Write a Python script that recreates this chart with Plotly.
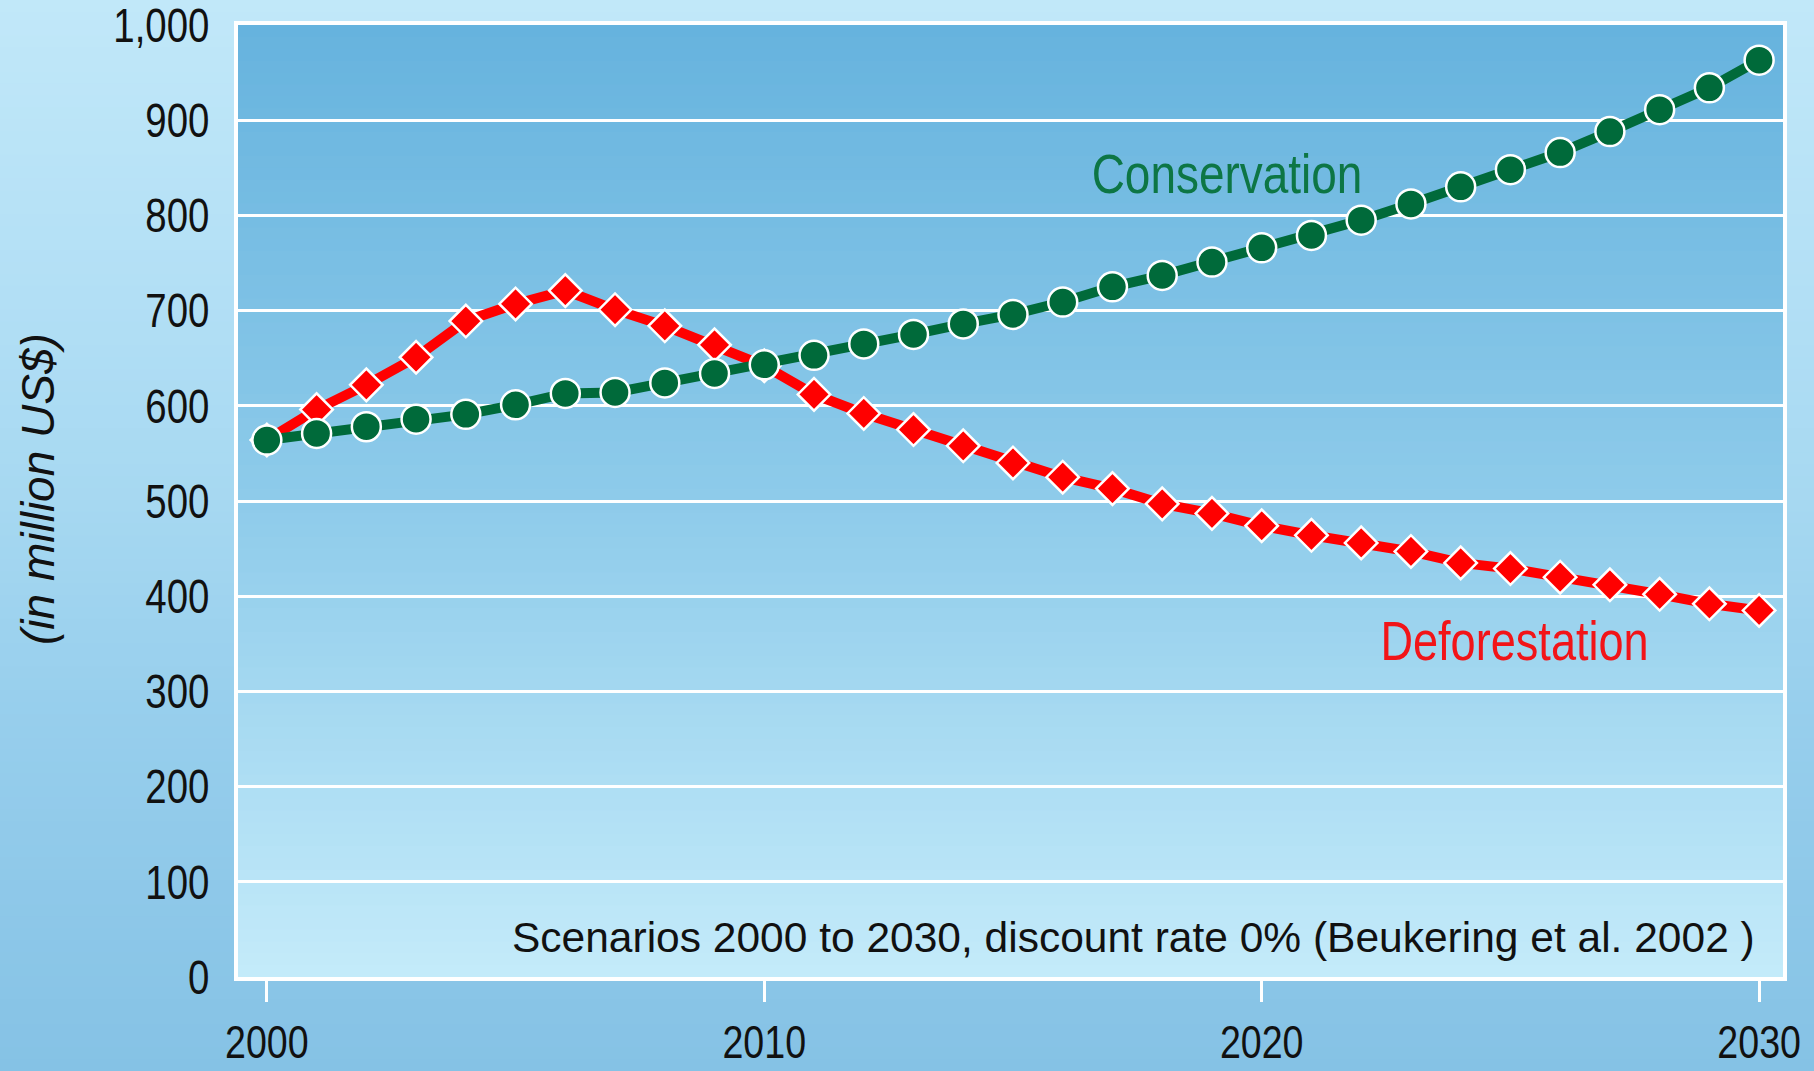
import plotly.graph_objects as go

# ---- data -------------------------------------------------------------
years = list(range(2000, 2031))

conservation = [564, 571, 578, 586, 591, 601, 613, 614, 624, 634, 643,
                653, 665, 675, 686, 696, 709, 725, 737, 751, 766,
                779, 795, 812, 830, 848, 866, 888, 911, 934, 963]

deforestation = [564, 596, 622, 651, 689, 707, 721, 701, 684, 664, 642,
                 612, 592, 575, 558, 540, 525, 513, 497, 487, 474,
                 464, 456, 447, 435, 429, 420, 412, 402, 392, 385]

x_ticks = [2000, 2010, 2020, 2030]
y_ticks = list(range(0, 1001, 100))

source_note = "Scenarios 2000 to 2030, discount rate 0% (Beukering et al. 2002 )"
y_title = "(in million US$)"

# ---- page geometry ------------------------------------------------------
W, H = 1814, 1071
M_L, M_R, M_T, M_B = 238, 31, 25, 94
PW = W - M_L - M_R
PH = H - M_T - M_B

SANS = "Liberation Sans, Arial, sans-serif"

GREEN = "#006a3a"
RED = "#ff0000"


def hex_to_rgb(h):
    h = h.lstrip("#")
    return tuple(int(h[i:i + 2], 16) for i in (0, 2, 4))


def blend(stops, t):
    """Linear colour blend along (position, hex) stops."""
    for (p0, c0), (p1, c1) in zip(stops, stops[1:]):
        if p0 <= t <= p1:
            f = 0 if p1 == p0 else (t - p0) / (p1 - p0)
            a, b = hex_to_rgb(c0), hex_to_rgb(c1)
            r = [round(a[i] + (b[i] - a[i]) * f) for i in range(3)]
            return "rgb({},{},{})".format(*r)
    return stops[-1][1]


def px_to_paper_y(py):
    return (H - M_B - py) / PH


shapes = []

# page background: light at the top, deeper blue at the bottom
page_stops = [(0.0, "#c1e8f9"), (0.28, "#b2dff5"), (0.47, "#a6d8f1"),
              (0.65, "#98cfed"), (1.0, "#85c2e5")]
n_page = 90
for i in range(n_page):
    t0 = i / n_page
    t1 = (i + 1) / n_page
    y_lo = px_to_paper_y(t1 * H + 1) if i < n_page - 1 else -0.6
    y_hi = px_to_paper_y(t0 * H) if i > 0 else 1.6
    shapes.append(dict(
        type="rect", xref="paper", yref="paper", layer="below",
        x0=-0.3, x1=1.3, y0=y_lo, y1=y_hi,
        fillcolor=blend(page_stops, (t0 + t1) / 2), line=dict(width=0)))

# plotting area: deep blue at the top fading to pale blue at the bottom
plot_stops = [(0.0, "#66b3de"), (0.5, "#8ecbea"), (1.0, "#c4ebfa")]
n_plot = 80
for i in range(n_plot):
    t0 = i / n_plot
    t1 = (i + 1) / n_plot
    shapes.append(dict(
        type="rect", xref="paper", yref="paper", layer="below",
        x0=0, x1=1, y0=max(0, 1 - t1 - 0.002), y1=1 - t0,
        fillcolor=blend(plot_stops, (t0 + t1) / 2), line=dict(width=0)))

fig = go.Figure()

fig.add_trace(go.Scatter(
    x=years, y=deforestation, mode="lines+markers", name="Deforestation",
    line=dict(color=RED, width=10),
    marker=dict(symbol="diamond", size=25, color=RED,
                line=dict(color="white", width=2.5)),
    hoverinfo="x+y"))

fig.add_trace(go.Scatter(
    x=years, y=conservation, mode="lines+markers", name="Conservation",
    line=dict(color=GREEN, width=10),
    marker=dict(symbol="circle", size=29, color=GREEN,
                line=dict(color="white", width=2.5)),
    hoverinfo="x+y"))

annotations = [
    dict(text="Conservation", x=2019.3, y=844, xref="x", yref="y",
         showarrow=False, xanchor="center", yanchor="middle",
         font=dict(family=SANS, size=56, color="#0d7645")),
    dict(text="Deforestation", x=2025.08, y=353, xref="x", yref="y",
         showarrow=False, xanchor="center", yanchor="middle",
         font=dict(family=SANS, size=55, color="#f21418")),
    dict(text=source_note, x=2029.95, y=42, xref="x", yref="y",
         showarrow=False, xanchor="right", yanchor="middle",
         font=dict(family=SANS, size=42.5, color="#111111")),
    dict(text="<i>" + y_title + "</i>", x=(38 - M_L) / PW, y=(977 - 489) / PH,
         xref="paper", yref="paper", showarrow=False, textangle=-90,
         xanchor="center", yanchor="middle",
         font=dict(family=SANS, size=46, color="#111111")),
]

fig.update_layout(
    width=W, height=H,
    margin=dict(l=M_L, r=M_R, t=M_T, b=M_B, pad=0, autoexpand=False),
    paper_bgcolor="#85c2e5",
    plot_bgcolor="rgba(0,0,0,0)",
    showlegend=False,
    shapes=shapes,
    annotations=annotations,
    xaxis=dict(
        range=[1999.42, 2030.48], tickvals=x_ticks, ticktext=[str(v) for v in x_ticks],
        showgrid=False, zeroline=False, automargin=False,
        showline=True, mirror=True, linecolor="white", linewidth=4,
        ticks="outside", ticklen=21, tickwidth=3, tickcolor="white",
        ticklabelstandoff=0, ticklabeloverflow="allow",
        tickfont=dict(family=SANS, size=47, color="#111111"),
    ),
    yaxis=dict(
        range=[0, 1000], tickvals=y_ticks, tickformat=",",
        showgrid=True, gridcolor="white", gridwidth=3, zeroline=False,
        automargin=False,
        showline=True, mirror=True, linecolor="white", linewidth=4,
        ticks="outside", ticklen=15, tickwidth=0, tickcolor="rgba(0,0,0,0)",
        ticklabeloverflow="allow",
        tickfont=dict(family=SANS, size=48, color="#111111"),
    ),
)

# Tick labels and series labels are set in a narrow face: squeeze the
# rendered glyphs horizontally once the plot has been drawn.
narrow_js = """
var gd = document.getElementById('{plot_id}');
function squeeze() {
  var sel = gd.querySelectorAll('.xtick text, .ytick text, .annotation-text');
  sel.forEach(function (t) {
    var txt = t.textContent;
    var f = null;
    if (t.closest('.xtick') || t.closest('.ytick')) { f = 0.8; }
    else if (txt === 'Conservation' || txt === 'Deforestation') { f = 0.82; }
    if (f === null) { return; }
    t.removeAttribute('textLength');
    var L = t.getComputedTextLength();
    if (L > 0) {
      t.setAttribute('textLength', (L * f).toFixed(2));
      t.setAttribute('lengthAdjust', 'spacingAndGlyphs');
    }
  });
}
squeeze();
gd.on('plotly_afterplot', squeeze);
"""

fig.write_html("out.html", post_script=narrow_js)
